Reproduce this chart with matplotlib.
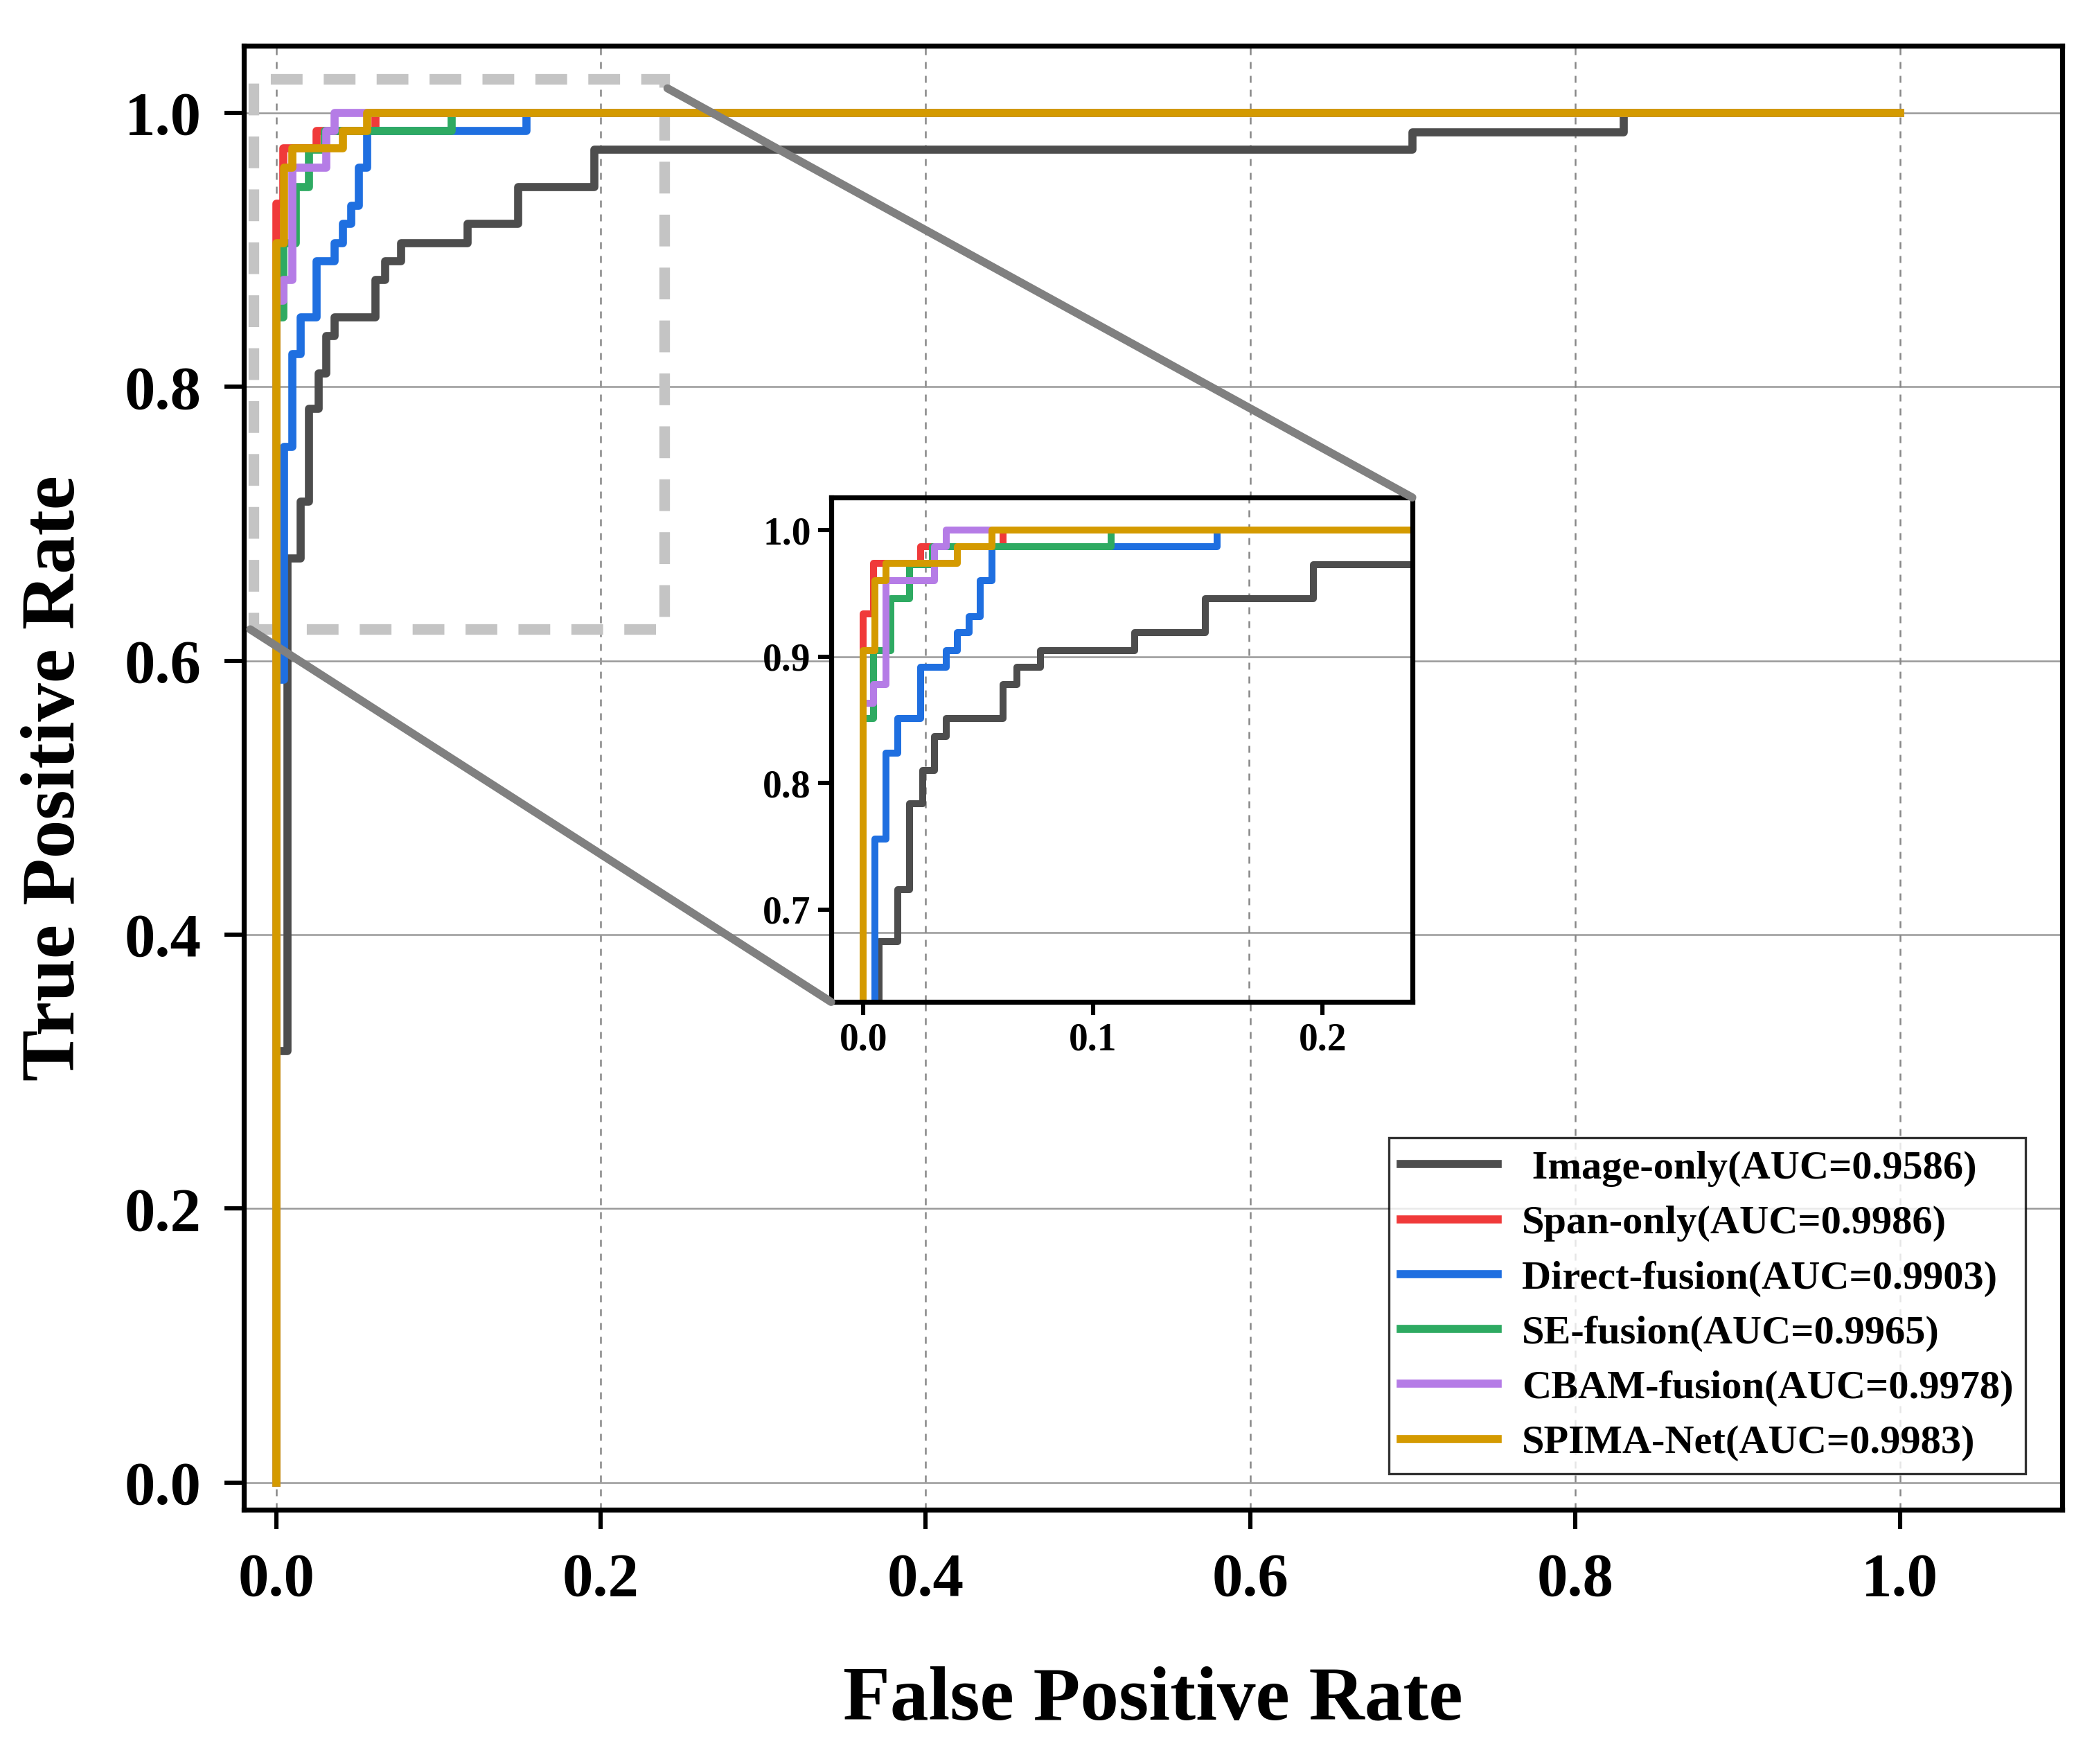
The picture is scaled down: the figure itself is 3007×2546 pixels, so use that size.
import numpy as np
import matplotlib
matplotlib.use('Agg')
from matplotlib import pyplot as plt
from matplotlib.patches import Rectangle, ConnectionPatch

plt.rcParams['font.family'] = ['Liberation Serif', 'DejaVu Serif']
plt.rcParams['font.weight'] = 'bold'

# ROC corner points
img_fpr = [0, 0, 0.007, 0.007, 0.015, 0.015, 0.020, 0.020, 0.026, 0.026, 0.031, 0.031, 0.036, 0.036,
           0.061, 0.061, 0.067, 0.067, 0.077, 0.077, 0.118, 0.118, 0.149, 0.149, 0.196, 0.196,
           0.70, 0.70, 0.83, 0.83, 1.0]
img_tpr = [0, 0.315, 0.315, 0.675, 0.675, 0.716, 0.716, 0.784, 0.784, 0.810, 0.810, 0.837, 0.837, 0.851,
           0.851, 0.878, 0.878, 0.892, 0.892, 0.905, 0.905, 0.919, 0.919, 0.946, 0.946, 0.973,
           0.973, 0.986, 0.986, 1.0, 1.0]
span_fpr = [0, 0, 0.0045, 0.0045, 0.025, 0.025, 0.061, 0.061, 1.0]
span_tpr = [0, 0.934, 0.934, 0.974, 0.974, 0.987, 0.987, 1.0, 1.0]
dir_fpr = [0, 0, 0.005, 0.005, 0.010, 0.010, 0.015, 0.015, 0.025, 0.025, 0.036, 0.036, 0.041, 0.041,
           0.046, 0.046, 0.051, 0.051, 0.056, 0.056, 0.154, 0.154, 1.0]
dir_tpr = [0, 0.586, 0.586, 0.756, 0.756, 0.824, 0.824, 0.851, 0.851, 0.892, 0.892, 0.905, 0.905, 0.919,
           0.919, 0.932, 0.932, 0.960, 0.960, 0.987, 0.987, 1.0, 1.0]
se_fpr = [0, 0, 0.0045, 0.0045, 0.012, 0.012, 0.020, 0.020, 0.030, 0.030, 0.108, 0.108, 1.0]
se_tpr = [0, 0.851, 0.851, 0.905, 0.905, 0.946, 0.946, 0.973, 0.973, 0.987, 0.987, 1.0, 1.0]
cbam_fpr = [0, 0, 0.0045, 0.0045, 0.010, 0.010, 0.031, 0.031, 0.036, 0.036, 1.0]
cbam_tpr = [0, 0.863, 0.863, 0.878, 0.878, 0.960, 0.960, 0.987, 0.987, 1.0, 1.0]
spima_fpr = [0, 0, 0.005, 0.005, 0.010, 0.010, 0.041, 0.041, 0.056, 0.056, 1.0]
spima_tpr = [0, 0.905, 0.905, 0.960, 0.960, 0.974, 0.974, 0.987, 0.987, 1.0, 1.0]

curves = [(img_fpr, img_tpr, ' Image-only(AUC=0.9586)', '#4d4d4d'),
          (span_fpr, span_tpr, 'Span-only(AUC=0.9986)', '#f03a3a'),
          (dir_fpr, dir_tpr, 'Direct-fusion(AUC=0.9903)', '#1f6fe0'),
          (se_fpr, se_tpr, 'SE-fusion(AUC=0.9965)', '#2eaa62'),
          (cbam_fpr, cbam_tpr, 'CBAM-fusion(AUC=0.9978)', '#b57ce6'),
          (spima_fpr, spima_tpr, 'SPIMA-Net(AUC=0.9983)', '#d49a00')]

fig = plt.figure(figsize=(15.035, 12.73), dpi=200)
ax = fig.add_axes([0.117, 0.144, 0.873, 0.830])
for f, t, lab, c in curves:
    ax.plot(f, t, color=c, lw=4.2, label=lab)
ax.set_xlim(-0.02, 1.10)
ax.set_ylim(-0.02, 1.049)
ticks = [0.0, 0.2, 0.4, 0.6, 0.8, 1.0]
ax.set_xticks(ticks)
ax.set_yticks(ticks)
ax.set_xticklabels(['%.1f' % v for v in ticks], fontsize=32, fontweight='bold')
ax.set_yticklabels(['%.1f' % v for v in ticks], fontsize=32, fontweight='bold')
ax.tick_params(width=2.2, length=10, pad=12)
for v in ticks:
    ax.axhline(v, color='#999999', lw=0.9, zorder=0)
    ax.axvline(v, color='#888888', lw=0.9, ls=(0, (4, 4)), zorder=0)
for s in ax.spines.values():
    s.set_linewidth(2.6)
ax.set_xlabel('False Positive Rate', fontsize=40, fontweight='bold', labelpad=30)
ax.set_ylabel('True Positive Rate', fontsize=40, fontweight='bold', labelpad=18)
leg = ax.legend(loc='lower right', frameon=True, fancybox=False,
                borderaxespad=0.9, handlelength=2.4, borderpad=0.3, labelspacing=0.45,
                handletextpad=0.6, prop={'size': 21, 'weight': 'bold'})
leg.get_frame().set_edgecolor('black')
leg.get_frame().set_linewidth(1.2)

# zoom region
x0, x1, y0, y1 = -0.014, 0.239, 0.623, 1.025
ax.add_patch(Rectangle((x0, y0), x1 - x0, y1 - y0, fill=False, ec='#c4c4c4', lw=5.5,
                       ls=(0, (3, 2)), zorder=1))

ins = fig.add_axes([0.399, 0.432, 0.279, 0.286])
for f, t, lab, c in curves:
    ins.plot(f, t, color=c, lw=3.6)
ins.set_xlim(x0, x1)
ins.set_ylim(0.627, 1.026)
ins.set_xticks([0.0, 0.1, 0.2])
ins.set_yticks([0.7, 0.8, 0.9, 1.0])
ins.set_xticklabels(['0.0', '0.1', '0.2'], fontsize=20, fontweight='bold')
ins.set_yticklabels(['0.7', '0.8', '0.9', '1.0'], fontsize=20, fontweight='bold')
ins.tick_params(width=2.2, length=7)
ins.axhline(0.9, color='#999999', lw=0.9, zorder=0)
ins.axhline(0.682, color='#999999', lw=0.9, zorder=0)
ins.axvline(0.027, color='#888888', lw=0.9, ls=(0, (4, 4)), zorder=0)
ins.axvline(0.168, color='#888888', lw=0.9, ls=(0, (4, 4)), zorder=0)
for s in ins.spines.values():
    s.set_linewidth(2.6)

for (px, py), (qx, qy) in [((0.241, 1.018), (1, 1)), ((-0.016, 0.623), (0, 0))]:
    cp = ConnectionPatch(xyA=(px, py), coordsA=ax.transData, xyB=(qx, qy), coordsB=ins.transAxes,
                         color='#808080', lw=4.2)
    fig.add_artist(cp)

plt.savefig('out.png', dpi=200)
